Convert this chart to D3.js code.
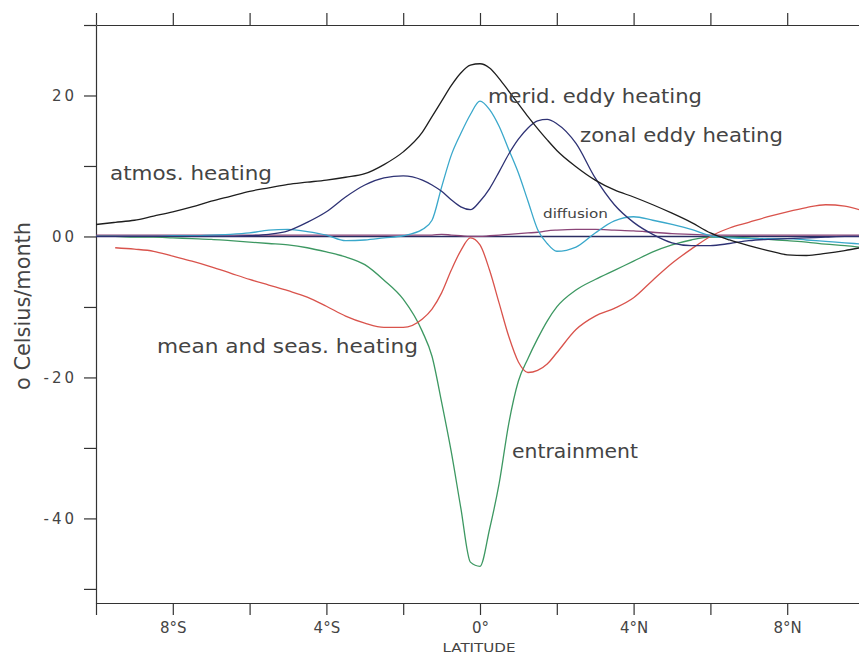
<!DOCTYPE html>
<html lang="en">
<head>
    <meta charset="UTF-8">
    <title>Mixed layer heat budget</title>
    <style>
        body { margin: 0; background: #fff; }
        text { font-family: "DejaVu Sans", sans-serif; fill: #444; }
    </style>
</head>
<body>
<script src="https://d3js.org/d3.v7.min.js"></script>
<script>
    // latitudes (degrees, negative = south)
    var lats = [-10, -9.5, -9, -8.5, -8, -7.5, -7, -6.5, -6, -5.5, -5, -4.5, -4, -3.5, -3, -2.5, -2, -1.5,
        -1.25, -1, -0.75, -0.5, -0.25, 0, 0.25, 0.5, 0.75, 1, 1.25, 1.5, 1.75,
        2, 2.5, 3, 3.5, 4, 4.5, 5, 5.5, 6, 6.5, 7, 7.5, 8, 8.5, 9, 9.5, 10];

    // terms of the budget, degrees C / month
    var atmosHeating = [1.7, 2.0, 2.3, 2.9, 3.5, 4.2, 5.0, 5.7, 6.4, 6.9, 7.4, 7.7, 8.0, 8.4, 8.9, 10.2, 12.0, 14.8,
        17.0, 19.2, 21.4, 23.2, 24.3, 24.5, 23.9, 22.4, 20.6, 18.8, 17.0, 15.3, 13.7,
        12.2, 9.9, 8.0, 6.6, 5.6, 4.5, 3.3, 2.0, 0.5, -0.5, -1.3, -2.0, -2.6, -2.7, -2.4, -2.0, -1.5];
    var meridEddy = [0, 0, 0, 0, 0.1, 0.1, 0.2, 0.3, 0.5, 0.9, 1.0, 0.7, 0.2, -0.6, -0.5, -0.2, 0.1, 1.0,
        2.3, 7.0, 11.5, 14.6, 17.3, 19.2, 18.0, 15.6, 12.3, 9.0, 5.0, 1.0, -1.0,
        -2.1, -1.5, 0.5, 2.2, 2.8, 2.3, 1.7, 1.0, 0.1, -0.2, -0.3, -0.3, -0.3, -0.5, -0.7, -0.9, -1.1];
    var zonalEddy = [0, 0, 0, 0, 0, 0, 0, 0, 0.1, 0.3, 0.8, 2.0, 3.5, 5.6, 7.3, 8.3, 8.6, 8.0,
        7.3, 6.4, 5.2, 4.2, 3.8, 5.0, 6.8, 9.2, 11.7, 13.8, 15.4, 16.4, 16.6,
        16.0, 13.2, 8.3, 4.5, 2.0, 0.3, -0.9, -1.3, -1.3, -1.0, -0.6, -0.4, -0.3, -0.2, -0.1, 0, 0];
    var diffusion = [0.2, 0.2, 0.2, 0.2, 0.2, 0.2, 0.2, 0.2, 0.2, 0.2, 0.2, 0.2, 0.2, 0.2, 0.2, 0.2, 0.2, 0.2,
        0.2, 0.3, 0.2, 0.1, 0, 0, 0.1, 0.2, 0.3, 0.4, 0.5, 0.6, 0.8,
        0.9, 1.0, 1.0, 0.9, 0.8, 0.6, 0.4, 0.3, 0.2, 0.2, 0.2, 0.2, 0.2, 0.2, 0.2, 0.2, 0.2];
    var meanSeas = [null, -1.6, -1.8, -2.1, -2.8, -3.5, -4.3, -5.2, -6.1, -6.9, -7.7, -8.6, -9.9, -11.3, -12.3, -12.9, -12.9, -11.7,
        -10.3, -8.0, -4.8, -2.0, -0.2, -1.2, -4.8, -9.5, -14.2, -17.8, -19.3, -19.0, -18.1,
        -16.5, -13.2, -11.3, -10.2, -8.7, -6.2, -3.8, -1.8, 0.0, 1.2, 2.0, 2.8, 3.5, 4.1, 4.5, 4.3, 3.6];
    var entrainment = [0, 0, -0.1, -0.1, -0.2, -0.3, -0.4, -0.6, -0.8, -1.0, -1.2, -1.6, -2.2, -2.9, -4.0, -6.2, -8.9, -13.5,
        -17.0, -23.5, -30.5, -38.5, -46.2, -46.8, -41.5, -35.0, -26.5, -20.5, -17.3, -14.5, -12.0,
        -10.0, -7.6, -6.1, -4.8, -3.5, -2.2, -1.2, -0.5, -0.1, -0.1, -0.2, -0.4, -0.6, -0.8, -1.1, -1.3, -1.6];

    var yTickValues = [-50, -40, -30, -20, -10, 0, 10, 20, 30];
    var yTickLabels = {"20": "20", "0": "00", "-20": "-20", "-40": "-40"};
    var xTickValues = [-10, -8, -6, -4, -2, 0, 2, 4, 6, 8, 10];
    var xTickLabels = {"-8": "8°S", "-4": "4°S", "0": "0°", "4": "4°N", "8": "8°N"};

    var width = 859,
        height = 655;

    var x = d3.scaleLinear().domain([-10, 10]).range([96, 864]);
    var y = d3.scaleLinear().domain([-52, 30]).range([603, 25]);

    var svg = d3.select("body")
        .append("svg")
        .attr("width", width)
        .attr("height", height);

    svg.append("defs").append("clipPath")
        .attr("id", "plot")
        .append("rect")
        .attr("x", 96).attr("y", 25)
        .attr("width", width - 96).attr("height", 578);

    // axes
    var leftAxis = svg.append("g")
        .attr("transform", "translate(96,0)")
        .call(d3.axisLeft(y).tickValues(yTickValues).tickSize(12).tickSizeOuter(0).tickPadding(7)
            .tickFormat(function (d) { return yTickLabels[d] || ""; }));
    var bottomAxis = svg.append("g")
        .attr("transform", "translate(0,603)")
        .call(d3.axisBottom(x).tickValues(xTickValues).tickSize(12).tickSizeOuter(0).tickPadding(7)
            .tickFormat(function (d) { return xTickLabels[d] || ""; }));
    var topAxis = svg.append("g")
        .attr("transform", "translate(0,25)")
        .call(d3.axisTop(x).tickValues(xTickValues).tickSize(12).tickSizeOuter(0).tickFormat(""));

    [leftAxis, bottomAxis, topAxis].forEach(function (g) {
        g.selectAll("path, line").attr("stroke", "#333").attr("stroke-width", 1.2);
        g.selectAll("text").attr("font-size", 15).attr("fill", "#444")
            .style("font-family", "DejaVu Sans, sans-serif");
    });
    leftAxis.selectAll("text").attr("letter-spacing", 3);

    // zero line
    svg.append("line")
        .attr("x1", x(-10)).attr("x2", width)
        .attr("y1", y(0)).attr("y2", y(0))
        .attr("stroke", "#2a2d62").attr("stroke-width", 1.6);

    var series = [
        {values: diffusion, color: "#8a4578"},
        {values: entrainment, color: "#3d9862"},
        {values: meanSeas, color: "#d9534c"},
        {values: meridEddy, color: "#3aa8cb"},
        {values: zonalEddy, color: "#2e3274"},
        {values: atmosHeating, color: "#1e1e1e"}
    ];

    var line = d3.line()
        .defined(function (d) { return d[1] != null; })
        .x(function (d) { return x(d[0]); })
        .y(function (d) { return y(d[1]); })
        .curve(d3.curveMonotoneX);

    svg.append("g")
        .attr("clip-path", "url(#plot)")
        .selectAll("path")
        .data(series)
        .enter()
        .append("path")
        .attr("fill", "none")
        .attr("stroke", function (d) { return d.color; })
        .attr("stroke-width", 1.3)
        .attr("d", function (d) {
            return line(lats.map(function (lat, i) { return [lat, d.values[i]]; }));
        });

    // curve names
    var notes = [
        {text: "atmos. heating", x: 110, y: 180, w: 162, size: 20},
        {text: "merid. eddy heating", x: 488, y: 103, w: 214, size: 20},
        {text: "zonal eddy heating", x: 580, y: 142, w: 203, size: 20},
        {text: "diffusion", x: 543, y: 218, w: 65, size: 13},
        {text: "mean and seas. heating", x: 157, y: 353, w: 261, size: 20},
        {text: "entrainment", x: 512, y: 458, w: 126, size: 20}
    ];
    svg.selectAll(".note")
        .data(notes)
        .enter()
        .append("text")
        .attr("class", "note")
        .attr("x", function (d) { return d.x; })
        .attr("y", function (d) { return d.y; })
        .attr("font-size", function (d) { return d.size; })
        .attr("textLength", function (d) { return d.w; })
        .attr("lengthAdjust", "spacingAndGlyphs")
        .text(function (d) { return d.text; });

    // axis titles
    svg.append("text")
        .attr("transform", "translate(30,306) rotate(-90)")
        .attr("text-anchor", "middle")
        .attr("font-size", 21)
        .attr("textLength", 168)
        .attr("lengthAdjust", "spacingAndGlyphs")
        .text("o Celsius/month");

    svg.append("text")
        .attr("x", 479).attr("y", 652)
        .attr("text-anchor", "middle")
        .attr("font-size", 13)
        .attr("textLength", 73)
        .attr("lengthAdjust", "spacingAndGlyphs")
        .text("LATITUDE");
</script>
</body>
</html>
